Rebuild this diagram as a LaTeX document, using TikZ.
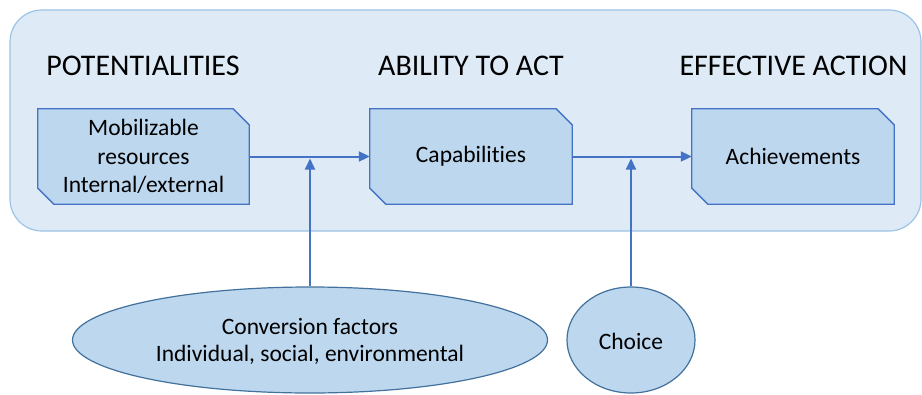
\documentclass[tikz,border=0pt]{standalone}
\usepackage{fontspec}
\setmainfont{Carlito}[Ligatures=CommonOff]
\usetikzlibrary{shapes.geometric,arrows.meta}
\definecolor{bgfill}{HTML}{DEEBF7}
\definecolor{bgline}{HTML}{9DC3E6}
\definecolor{boxfill}{HTML}{BDD7EE}
\definecolor{boxline}{HTML}{4472C4}
\definecolor{ellline}{HTML}{41719C}
\tikzset{
  stagebox/.style={rectangle, minimum height=95pt, inner sep=0pt, align=center,
    font=\fontsize{23.5}{28.5}\selectfont},
  snipped/.style={draw=boxline, line width=1.3pt, fill=boxfill, line join=miter},
  title/.style={font=\fontsize{30}{34}\selectfont, anchor=center},
  flow/.style={draw=boxline, line width=2pt, -{Triangle[length=11pt,width=10pt]}},
  factor/.style={ellipse, draw=ellline, line width=1.2pt, fill=boxfill, inner sep=0pt,
    align=center, font=\fontsize{23.5}{27}\selectfont},
}
\newcommand{\snipbox}[1]{%
  \draw[snipped] (#1.north west) -- ([xshift=-16pt]#1.north east) -- ([yshift=-16pt]#1.north east)
    -- (#1.south east) -- ([xshift=16pt]#1.south west) -- ([yshift=16pt]#1.south west) -- cycle;}
\begin{document}
\begin{tikzpicture}[x=1pt,y=-1pt]
\useasboundingbox (0,0) rectangle (922,394);
\draw[bgline, line width=1.2pt, fill=bgfill, rounded corners=32pt] (10,10) rectangle (921,231);
\node[title] (t1) at (143,66) {POTENTIALITIES};
\node[title] (t2) at (471,66) {ABILITY TO ACT};
\node[title] (t3) at (793.5,66) {EFFECTIVE ACTION};
\node[stagebox, minimum width=211pt] (b1) at (143.5,156.5) {};
\node[stagebox, minimum width=202pt] (b2) at (471,156.5) {};
\node[stagebox, minimum width=202pt] (b3) at (793,156.5) {};
\snipbox{b1}\snipbox{b2}\snipbox{b3}
\node[stagebox, minimum width=211pt] (l1) at (b1) {Mobilizable\\resources\\Internal/external};
\node[stagebox, minimum width=202pt] (l2) at (b2) {Capabilities};
\node[stagebox, minimum width=202pt] (l3) at (b3) {Achievements};
\node[factor, minimum width=475pt, minimum height=106pt] (e1) at (310,340) {};
\node[factor, minimum width=128pt, minimum height=106pt] (e2) at (631,340) {};
\node[align=center, font=\fontsize{23.5}{27}\selectfont] (e1t) at (310,341.5) {Conversion factors\\Individual, social, environmental};
\node[font=\fontsize{23.5}{27}\selectfont] (e2t) at (631,341.5) {Choice};
\coordinate (m1) at (e1.north |- b1.east);
\coordinate (m2) at (e2.north |- b2.east);
\draw[flow] (b1.east) -- (b2.west);
\draw[flow] (b2.east) -- (b3.west);
\draw[flow] (e1.north) -- ([yshift=-2pt]m1);
\draw[flow] (e2.north) -- ([yshift=-2pt]m2);
\end{tikzpicture}
\end{document}
